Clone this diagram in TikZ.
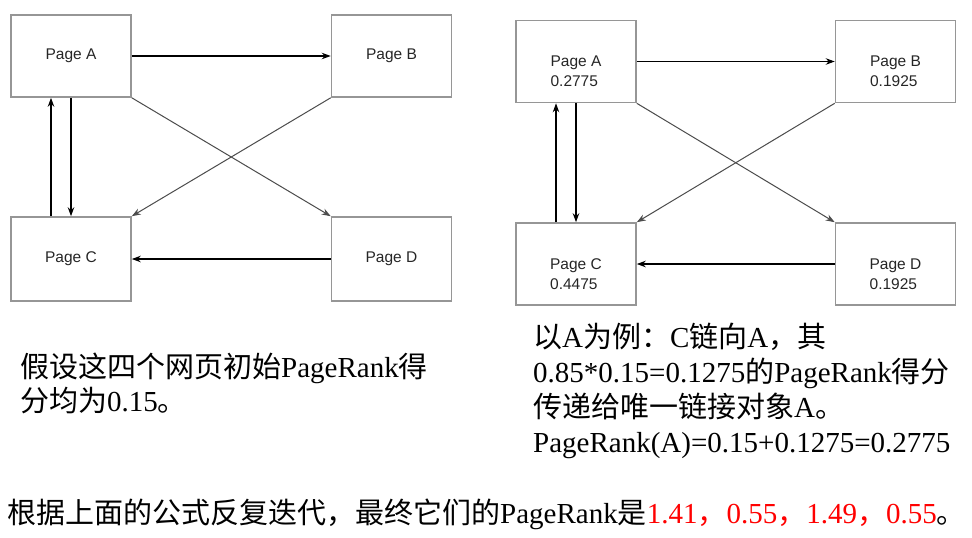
\documentclass[tikz,border=0pt]{standalone}
\usepackage{fontspec}
\setmainfont{Liberation Serif}
\newfontfamily\cjk{Noto Sans CJK SC}
\newfontfamily\boxfont{Liberation Sans}
\usetikzlibrary{arrows.meta,calc}
\definecolor{boxgray}{RGB}{150,150,150}
\begin{document}
\begin{tikzpicture}[x=1pt,y=-1pt,
  pagebox/.style={draw=boxgray,line width=1.6pt,minimum width=120pt,minimum height=82pt,inner sep=0pt,
    font=\boxfont\fontsize{15.5}{20}\selectfont,text=black!85,align=left},
  boxlabel/.style={inner sep=0pt,font=\boxfont\fontsize{15.5}{20}\selectfont,text=black!85,align=left},
  arr/.style={line width=1.2pt,-{Stealth[length=9pt,width=6.5pt]}},
  darr/.style={arr,draw=black!70,line width=1pt},
  txt/.style={anchor=base west,inner sep=0pt,font=\fontsize{29}{35}\selectfont}]
\useasboundingbox (0,0) rectangle (972,538);
\fill[white] (0,0) rectangle (972,538);
% left diagram
\node[pagebox] (LA) at (71,56) {Page A};
\node[pagebox] (LB) at (391.5,56) {Page B};
\node[pagebox,minimum height=84pt] (LC) at (71,259) {Page C};
\node[pagebox,minimum height=84pt] (LD) at (391.5,259) {Page D};
\draw[arr] (LA.east) -- (LB.west);
\draw[arr] ([xshift=-20pt]LC.north) -- ([xshift=-20pt]LA.south);
\draw[arr] (LA.south) -- (LC.north);
\draw[darr] (LA.south east) -- (LD.north west);
\draw[darr] (LB.south west) -- (LC.north east);
\draw[arr] (LD.west) -- (LD.west -| LC.east);
% right diagram
\node[pagebox] (RA) at (576,61.5) {};
\node[pagebox] (RB) at (895.5,61.5) {};
\node[pagebox] (RC) at (576,264) {};
\node[pagebox] (RD) at (895.5,264) {};
\node[boxlabel] (RAt) at ([yshift=-10pt]RA.center) {Page A\\0.2775};
\node[boxlabel] (RBt) at ([yshift=-10pt]RB.center) {Page B\\0.1925};
\node[boxlabel] (RCt) at ([yshift=-10pt]RC.center) {Page C\\0.4475};
\node[boxlabel] (RDt) at ([yshift=-10pt]RD.center) {Page D\\0.1925};
\draw[arr] (RA.east) -- (RB.west);
\draw[arr] ([xshift=-20pt]RC.north) -- ([xshift=-20pt]RA.south);
\draw[arr] (RA.south) -- (RC.north);
\draw[darr] (RA.south east) -- (RD.north west);
\draw[darr] (RB.south west) -- (RC.north east);
\draw[arr] (RD.west) -- (RD.west -| RC.east);
% texts
\node[txt] (t1) at (20,377) {{\cjk 假设这四个网页初始}PageRank{\cjk 得}};
\node[txt] (t2) at (20,411) {{\cjk 分均为}0.15{\cjk 。}};
\node[txt] (r1) at (533,347) {{\cjk 以}A{\cjk 为例：}C{\cjk 链向}A{\cjk ，其}};
\node[txt] (r2) at (533,382) {0.85*0.15=0.1275{\cjk 的}PageRank{\cjk 得分}};
\node[txt] (r3) at (533,417) {{\cjk 传递给唯一链接对象}A{\cjk 。}};
\node[txt] (r4) at (533,452) {PageRank(A)=0.15+0.1275=0.2775};
\node[txt] (b1) at (7,523) {{\cjk 根据上面的公式反复迭代，最终它们的}PageRank{\cjk 是}\textcolor{red}{1.41{\cjk ，}0.55{\cjk ，}1.49{\cjk ，}0.55}{\cjk 。}};
\end{tikzpicture}
\end{document}
